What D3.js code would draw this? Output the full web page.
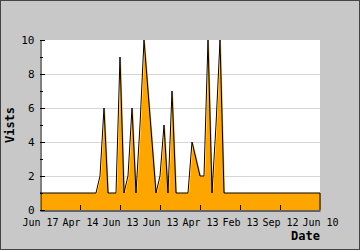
<!DOCTYPE html>
<html>
<head>
<meta charset="utf-8">
<script src="https://cdn.jsdelivr.net/npm/d3@7"></script>
<style>
  html, body { margin: 0; padding: 0; background: #c8c8c8; }
  svg { display: block; }
</style>
</head>
<body>
<div id="chart"></div>
<script>
// Visits per sample, newest on the left
const visits = [
  1, 1, 1, 1, 1, 1, 1, 1, 1, 1, 1, 1, 1, 1,
  1, 2, 6, 1, 1, 1, 9, 1, 2, 6, 1, 5, 10, 7, 4, 1,
  2, 5, 1, 7, 1, 1, 1, 1, 4, 3, 2, 2, 10, 1, 5, 10, 1,
  1, 1, 1, 1, 1, 1, 1, 1, 1, 1, 1, 1, 1, 1, 1, 1, 1, 1, 1, 1, 1, 1, 1, 1
]
const dateLabels = ["Jun 17", "Apr 14", "Jun 13", "Jun 13", "Apr 13", "Feb 13", "Sep 12", "Jun 10"]
const dateTickIdx = [0, 10, 20, 30, 40, 50, 60, 70]
const yMajor = [0, 2, 4, 6, 8, 10]
const yMinor = [1, 3, 5, 7, 9]

const width = 360
const height = 250
const margin = { top: 40, right: 40, bottom: 40, left: 40 }
const innerW = width - margin.left - margin.right
const innerH = height - margin.top - margin.bottom
const mono = "'DejaVu Sans Mono', monospace"

const root = d3.select("#chart")
  .append("svg")
  .attr("width", width)
  .attr("height", height)

// Frame
root.append("rect")
  .attr("x", 0.5).attr("y", 0.5)
  .attr("width", width - 1).attr("height", height - 1)
  .attr("fill", "#c8c8c8")
  .attr("stroke", "#444")

const svg = root.append("g")
  .attr("transform", `translate(${margin.left},${margin.top})`)

const x = d3.scaleLinear().domain([0, visits.length - 1]).range([0, innerW])
const y = d3.scaleLinear().domain([0, 10]).range([innerH, 0])

svg.append("rect")
  .attr("width", innerW).attr("height", innerH)
  .attr("fill", "#fff")

// Grid
svg.selectAll(".grid")
  .data(yMajor.filter(d => d > 0 && d < 10))
  .join("line")
  .attr("x1", 0).attr("x2", innerW)
  .attr("y1", d => y(d) + 0.5).attr("y2", d => y(d) + 0.5)
  .attr("stroke", "#d6d6d6")

svg.append("clipPath").attr("id", "plot")
  .append("rect").attr("width", innerW).attr("height", innerH)

// Fill, slightly offset to the right like the original
const area = d3.area()
  .x((d, i) => x(i))
  .y0(y(0))
  .y1(d => y(d))

svg.append("path")
  .datum(visits)
  .attr("clip-path", "url(#plot)")
  .attr("transform", "translate(1,0)")
  .attr("fill", "#ffa500")
  .attr("d", area)

const line = d3.line()
  .x((d, i) => x(i))
  .y(d => y(d))

svg.append("path")
  .datum(visits)
  .attr("fill", "none")
  .attr("stroke", "#000")
  .attr("stroke-width", 1)
  .attr("d", line)

// right edge of the filled area
svg.append("line")
  .attr("x1", x(visits.length - 1)).attr("x2", x(visits.length - 1))
  .attr("y1", y(visits[visits.length - 1])).attr("y2", y(0))
  .attr("stroke", "#000")

// Y axis
svg.append("g")
  .attr("transform", "translate(0.5,0)")
  .call(d3.axisLeft(y).tickValues(yMajor).tickSize(0).tickPadding(6))
  .call(g => g.select(".domain").attr("stroke", "#000"))
  .selectAll("text")
  .attr("font-family", mono)
  .attr("font-size", "11px")
  .attr("fill", "#000")

svg.selectAll(".ymin")
  .data(yMinor)
  .join("line")
  .attr("x1", 0).attr("x2", 3)
  .attr("y1", d => y(d) + 0.5).attr("y2", d => y(d) + 0.5)
  .attr("stroke", "#000")

svg.selectAll(".ymaj")
  .data(yMajor)
  .join("line")
  .attr("x1", 0).attr("x2", 5)
  .attr("y1", d => y(d) + 0.5).attr("y2", d => y(d) + 0.5)
  .attr("stroke", "#000")

// X axis
const xAxis = svg.append("g")
  .attr("transform", `translate(0,${innerH + 0.5})`)
  .call(d3.axisBottom(x)
    .tickValues(dateTickIdx)
    .tickFormat((d, i) => dateLabels[i])
    .tickSize(0)
    .tickPadding(8))
xAxis.select(".domain").attr("stroke", "#000")
xAxis.selectAll("text")
  .attr("font-family", mono)
  .attr("font-size", "10px")
  .attr("fill", "#000")

svg.selectAll(".xtick")
  .data(dateTickIdx.slice(1, -1))
  .join("line")
  .attr("x1", d => x(d) + 0.5).attr("x2", d => x(d) + 0.5)
  .attr("y1", innerH).attr("y2", innerH - 5)
  .attr("stroke", "#000")

// Axis titles
svg.append("text")
  .attr("x", innerW)
  .attr("y", innerH + 30)
  .attr("text-anchor", "end")
  .attr("font-family", mono)
  .attr("font-weight", "bold")
  .attr("font-size", "12px")
  .text("Date")

svg.append("text")
  .attr("transform", `translate(${-margin.left + 14},${innerH / 2}) rotate(-90)`)
  .attr("text-anchor", "middle")
  .attr("font-family", mono)
  .attr("font-weight", "bold")
  .attr("font-size", "12px")
  .text("Vists")
</script>
</body>
</html>
